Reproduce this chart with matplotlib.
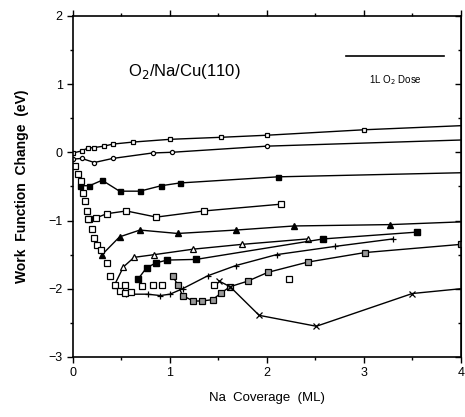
import matplotlib
matplotlib.use("Agg")
import matplotlib.pyplot as plt

plt.rcParams['font.family'] = ['Liberation Sans', 'DejaVu Sans']

# O2 dose series on Na/Cu(110): coverage (ML) vs work function change (eV)
s1_x = [0.0, 0.09, 0.15, 0.22, 0.32, 0.41, 0.62, 1.0, 1.53, 2.0, 3.0, 4.0]
s1_y = [-0.01, 0.02, 0.06, 0.07, 0.09, 0.12, 0.15, 0.19, 0.22, 0.25, 0.33, 0.39]

s2_x = [0.0, 0.09, 0.22, 0.41, 0.82, 1.02, 2.0, 4.0]
s2_y = [-0.1, -0.09, -0.15, -0.09, -0.01, 0.0, 0.09, 0.18]

s3_x = [0.07, 0.17, 0.30, 0.48, 0.69, 0.91, 1.10, 2.11, 4.0]
s3_y = [-0.49, -0.49, -0.41, -0.57, -0.57, -0.49, -0.45, -0.36, -0.30]

s4_x = [0.16, 0.24, 0.35, 0.55, 0.86, 1.35, 2.15]
s4_y = [-0.98, -0.96, -0.90, -0.86, -0.95, -0.86, -0.76]

s5_x = [0.30, 0.48, 0.69, 1.08, 1.68, 2.28, 3.27, 4.0]
s5_y = [-1.50, -1.24, -1.14, -1.19, -1.14, -1.08, -1.06, -1.02]

s6_x = [0.43, 0.52, 0.63, 0.84, 1.24, 1.74, 2.42]
s6_y = [-1.94, -1.68, -1.54, -1.50, -1.42, -1.35, -1.27]

s7_x = [0.67, 0.76, 0.86, 0.97, 1.27, 2.58, 3.55]
s7_y = [-1.86, -1.69, -1.62, -1.58, -1.57, -1.27, -1.17]

s8_x = [0.55, 0.77, 0.90, 1.00, 1.13, 1.39, 1.68, 2.10, 2.70, 3.30]
s8_y = [-2.08, -2.08, -2.10, -2.08, -2.00, -1.81, -1.66, -1.50, -1.38, -1.27]

s9_x = [1.03, 1.08, 1.13, 1.24, 1.33, 1.44, 1.53, 1.62, 1.80, 2.01, 2.42, 3.01, 4.0]
s9_y = [-1.82, -1.94, -2.10, -2.18, -2.18, -2.16, -2.06, -1.97, -1.89, -1.76, -1.61, -1.47, -1.35]

s10_x = [1.51, 1.62, 1.92, 2.51, 3.50, 4.0]
s10_y = [-1.89, -1.97, -2.39, -2.55, -2.07, -2.0]

# clean Na adsorption (open squares, no line)
na_x = [0.02, 0.055, 0.08, 0.106, 0.123, 0.147, 0.154, 0.192, 0.216, 0.244, 0.285,
        0.346, 0.38, 0.432, 0.483, 0.535, 0.54, 0.60, 0.707, 0.827, 0.913, 1.45, 2.23]
na_y = [-0.20, -0.32, -0.42, -0.59, -0.71, -0.86, -0.98, -1.12, -1.25, -1.36, -1.43,
        -1.62, -1.81, -1.94, -2.03, -2.06, -1.94, -2.05, -1.96, -1.95, -1.94, -1.95, -1.86]

dose_bar_x = [2.82, 3.83]
dose_bar_y = [1.41, 1.41]

fig = plt.figure(figsize=(4.65, 4.17), dpi=100)
ax = fig.add_axes([0.157, 0.144, 0.834, 0.818])

lw = 1.0
ax.plot(s1_x, s1_y, '-s', color='k', lw=lw, ms=3.2, mfc='white', mew=0.9, markevery=slice(0, -1))
ax.plot(s2_x, s2_y, '-o', color='k', lw=lw, ms=3, mfc='white', mew=0.9, markevery=slice(0, -1))
ax.plot(s3_x, s3_y, '-s', color='k', lw=lw, ms=3.6, mfc='k', markevery=slice(0, -1))
ax.plot(s4_x, s4_y, '-s', color='k', lw=lw, ms=4, mfc='white', mew=0.9)
ax.plot(s5_x, s5_y, '-^', color='k', lw=lw, ms=3.8, mfc='k', markevery=slice(0, -1))
ax.plot(s6_x, s6_y, '-^', color='k', lw=lw, ms=4, mfc='white', mew=0.9)
ax.plot(s7_x, s7_y, '-s', color='k', lw=lw, ms=3.8, mfc='k')
ax.plot(s8_x, s8_y, '-+', color='k', lw=lw, ms=4.5, mew=0.9)
ax.plot(s9_x, s9_y, '-s', color='k', lw=lw, ms=3.8, mfc='0.6', mew=0.9)
ax.plot(s10_x, s10_y, '-x', color='k', lw=lw, ms=4.5, mew=0.9, markevery=slice(0, -1))
ax.plot(na_x, na_y, 's', color='k', ls='none', ms=4, mfc='white', mew=0.9)

ax.plot(dose_bar_x, dose_bar_y, color='k', lw=1.2)
ax.text(3.33, 1.06, '1L O$_2$ Dose', fontsize=7, ha='center', va='center')
ax.text(1.15, 1.19, 'O$_2$/Na/Cu(110)', fontsize=12, ha='center', va='center')

ax.set_xlim(0, 4)
ax.set_ylim(-3, 2)
ax.set_xticks([0, 1, 2, 3, 4])
ax.set_xticks([0.5, 1.5, 2.5, 3.5], minor=True)
ax.set_yticks([-3, -2, -1, 0, 1, 2])
ax.set_yticks([-2.5, -1.5, -0.5, 0.5, 1.5], minor=True)
ax.tick_params(which='both', direction='out', top=True, labelsize=9, width=1)
ax.tick_params(which='major', length=4)
ax.tick_params(which='minor', length=2.5)
ax.tick_params(axis='y', which='both', right=True)
for t in ax.yaxis.get_ticklines(minor=False) + ax.yaxis.get_ticklines(minor=True):
    pass
ax2 = ax.secondary_yaxis('right')
ax2.set_yticks([-3, -2, -1, 0, 1, 2])
ax2.set_yticks([-2.5, -1.5, -0.5, 0.5, 1.5], minor=True)
ax2.tick_params(which='both', direction='in', labelright=False, width=1)
ax2.tick_params(which='major', length=4)
ax2.tick_params(which='minor', length=2.5)
ax.tick_params(axis='y', which='both', right=False)
for sp in ax.spines.values():
    sp.set_linewidth(1.2)

ax.set_xlabel('Na  Coverage  (ML)', fontsize=9.5, labelpad=9)
ax.set_ylabel('Work  Function  Change  (eV)', fontsize=10, fontweight='semibold', labelpad=14)

fig.savefig('out.png', dpi=100)
